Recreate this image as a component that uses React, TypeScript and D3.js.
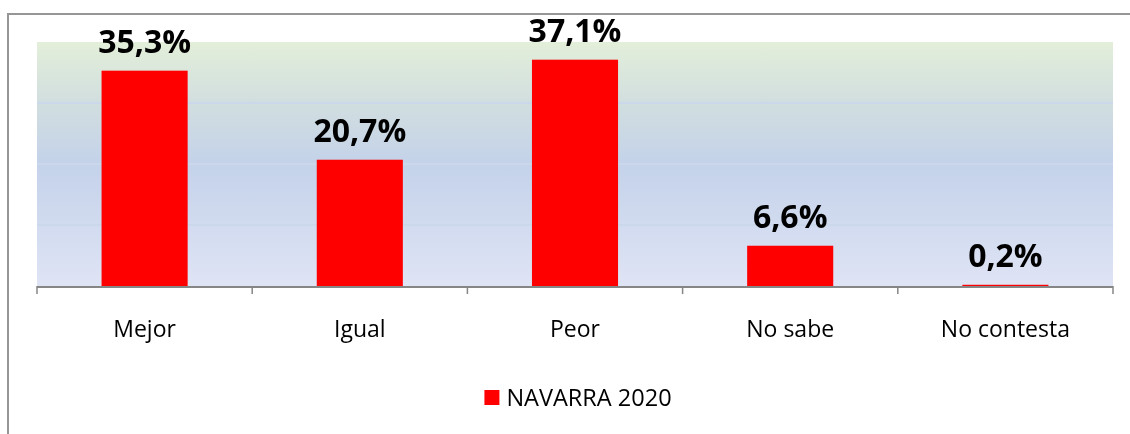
import React, { useRef, useEffect } from 'react';
import * as d3 from 'd3';

const categories = ['Mejor', 'Igual', 'Peor', 'No sabe', 'No contesta'];
const values = [35.3, 20.7, 37.1, 6.6, 0.2];
const valueLabels = ['35,3%', '20,7%', '37,1%', '6,6%', '0,2%'];
const gridTicks = [10, 20, 30];
const seriesName = 'NAVARRA 2020';

export default function App() {
  const svgRef = useRef<SVGSVGElement>(null);

  useEffect(() => {
    const width = 1130;
    const height = 434;
    const margin = { top: 42, right: 17, bottom: 148, left: 37 };
    const font = "'Open Sans', 'DejaVu Sans', sans-serif";

    const svg = d3.select(svgRef.current);
    svg.selectAll('*').remove();
    svg.attr('width', width).attr('height', height).attr('viewBox', `0 0 ${width} ${height}`);

    const x = d3.scaleBand<string>()
      .domain(categories)
      .range([margin.left, width - margin.right])
      .paddingInner(0.6)
      .paddingOuter(0.3);

    const y = d3.scaleLinear()
      .domain([0, 40])
      .range([height - margin.bottom, margin.top]);

    // outer frame (runs off the right and bottom edge)
    svg.append('rect')
      .attr('x', 8).attr('y', 14)
      .attr('width', width + 20).attr('height', height + 20)
      .attr('fill', 'white')
      .attr('stroke', '#969696')
      .attr('stroke-width', 2);

    const defs = svg.append('defs');
    const grad = defs.append('linearGradient')
      .attr('id', 'plotBg')
      .attr('x1', 0).attr('y1', 0).attr('x2', 0).attr('y2', 1);
    grad.append('stop').attr('offset', '0%').attr('stop-color', '#e3efd9');
    grad.append('stop').attr('offset', '25%').attr('stop-color', '#d1dedf');
    grad.append('stop').attr('offset', '50%').attr('stop-color', '#c4d2ea');
    grad.append('stop').attr('offset', '100%').attr('stop-color', '#dfe4f5');

    svg.append('rect')
      .attr('x', margin.left)
      .attr('y', y(40))
      .attr('width', width - margin.right - margin.left)
      .attr('height', y(0) - y(40))
      .attr('fill', 'url(#plotBg)');

    svg.append('g')
      .selectAll('line')
      .data(gridTicks)
      .join('line')
      .attr('x1', margin.left)
      .attr('x2', width - margin.right)
      .attr('y1', d => y(d))
      .attr('y2', d => y(d))
      .attr('stroke', '#cbd8eb')
      .attr('stroke-width', 2);

    svg.append('g')
      .selectAll('rect')
      .data(values)
      .join('rect')
      .attr('x', (d, i) => x(categories[i])!)
      .attr('y', d => y(d))
      .attr('width', x.bandwidth())
      .attr('height', d => y(0) - y(d))
      .attr('fill', '#ff0000');

    svg.append('g')
      .selectAll('text')
      .data(values)
      .join('text')
      .attr('x', (d, i) => x(categories[i])! + x.bandwidth() / 2)
      .attr('y', d => y(d) - 18)
      .attr('text-anchor', 'middle')
      .attr('font-family', font)
      .attr('font-weight', 700)
      .attr('font-size', 32)
      .attr('fill', '#000')
      .text((d, i) => valueLabels[i]);

    // x axis
    const step = x.step();
    const bounds = categories.map(c => x(c)! - (step - x.bandwidth()) / 2);
    bounds.push(width - margin.right);

    svg.append('line')
      .attr('x1', margin.left).attr('x2', width - margin.right)
      .attr('y1', y(0) + 1).attr('y2', y(0) + 1)
      .attr('stroke', '#868686')
      .attr('stroke-width', 2);

    svg.append('g')
      .selectAll('line')
      .data(bounds)
      .join('line')
      .attr('x1', d => d).attr('x2', d => d)
      .attr('y1', y(0)).attr('y2', y(0) + 8)
      .attr('stroke', '#868686')
      .attr('stroke-width', 1.5);

    svg.append('g')
      .selectAll('text')
      .data(categories)
      .join('text')
      .attr('x', d => x(d)! + x.bandwidth() / 2)
      .attr('y', y(0) + 51)
      .attr('text-anchor', 'middle')
      .attr('font-family', font)
      .attr('font-size', 23)
      .attr('fill', '#000')
      .text(d => d);

    // legend
    const legend = svg.append('g');
    const label = legend.append('text')
      .attr('x', 22)
      .attr('y', 406)
      .attr('font-family', font)
      .attr('font-size', 23.5)
      .attr('fill', '#000')
      .text(seriesName);
    legend.append('rect')
      .attr('x', 0).attr('y', 390)
      .attr('width', 15).attr('height', 15)
      .attr('fill', '#ff0000');
    const textW = (label.node() as SVGTextElement).getComputedTextLength();
    const total = 22 + textW;
    const cx = (margin.left + width - margin.right) / 2 + 3;
    legend.attr('transform', `translate(${cx - total / 2},0)`);
  }, []);

  return <svg ref={svgRef} style={{ position: 'fixed', top: 0, left: 0, display: 'block' }} />;
}
